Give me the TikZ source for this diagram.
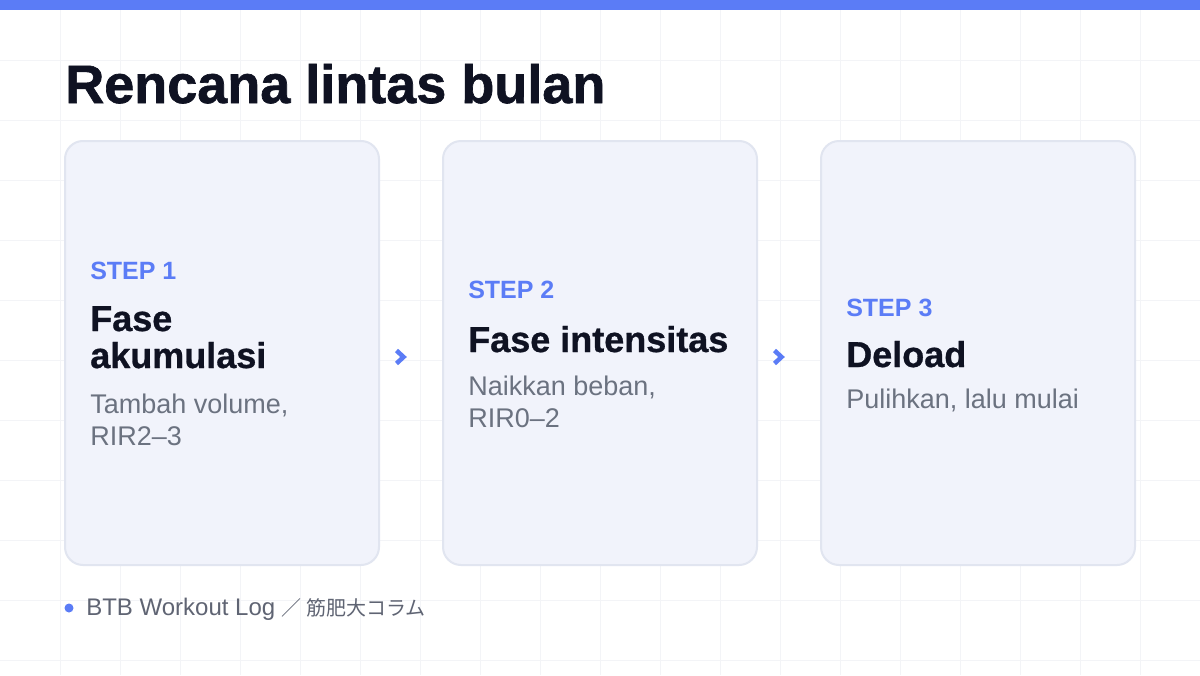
\documentclass[tikz,border=0pt]{standalone}
\usepackage{fontspec}
\setmainfont{Liberation Sans}
\newfontfamily\cjk{Noto Sans CJK JP}
\usetikzlibrary{calc}
\definecolor{accent}{HTML}{5B7CF6}
\definecolor{gridc}{HTML}{F3F4F7}
\definecolor{cardfill}{HTML}{F1F3FB}
\definecolor{cardline}{HTML}{E1E5F0}
\definecolor{ink}{HTML}{0F1222}
\definecolor{muted}{HTML}{6B7280}
\definecolor{footc}{HTML}{5F6473}
\begin{document}
\begin{tikzpicture}[x=0.75pt,y=-0.75pt,
  card/.style={draw=cardline,line width=1.5pt,fill=cardfill,rounded corners=13.5pt,
    minimum width=235.5pt,minimum height=318pt,inner sep=0pt},
  txt/.style={anchor=base west,inner sep=0pt},
  steplbl/.style={txt,text=accent,font=\fontsize{18.75pt}{22pt}\selectfont\bfseries},
  headlbl/.style={txt,text=ink,font=\fontsize{27pt}{30pt}\selectfont\bfseries\addfontfeature{FakeBold=0.8}},
  desclbl/.style={txt,text=muted,font=\fontsize{20.25pt}{24pt}\selectfont},
  chev/.style={draw=accent,line width=3.4pt,line cap=butt,line join=miter}
]
\useasboundingbox (0,0) rectangle (1200,675);
\fill[white] (0,0) rectangle (1200,675);
\foreach \i in {60,120,...,1140} \draw[gridc,line width=0.75pt] (\i,0) -- (\i,675);
\foreach \j in {60,120,...,660} \draw[gridc,line width=0.75pt] (0,\j) -- (1200,\j);
\fill[accent] (0,0) rectangle (1200,10);

\node[txt,text=ink,font=\fontsize{40.5pt}{44pt}\selectfont\bfseries\addfontfeature{FakeBold=1.2}] (title) at (65,103) {Rencana lintas bulan};

\node[card] (c1) at (222,353) {};
\node[card] (c2) at (600,353) {};
\node[card] (c3) at (978,353) {};

\node[steplbl] (s1) at (90,279) {STEP 1};
\node[headlbl] (h1a) at (90,331) {Fase};
\node[headlbl] (h1b) at (90,368) {akumulasi};
\node[desclbl] (d1a) at (90,413) {Tambah volume,};
\node[desclbl] (d1b) at (90,445) {RIR2–3};

\node[steplbl] (s2) at (468,298) {STEP 2};
\node[headlbl] (h2) at (468,352) {Fase intensitas};
\node[desclbl] (d2a) at (468,395) {Naikkan beban,};
\node[desclbl] (d2b) at (468,427) {RIR0–2};

\node[steplbl] (s3) at (846,316) {STEP 3};
\node[headlbl] (h3) at (846,367) {Deload};
\node[desclbl] (d3) at (846,408) {Pulihkan, lalu mulai};

\coordinate (a1) at ($(c1.east)!0.5!(c2.west)+(-10,4)$);
\coordinate (a2) at ($(c2.east)!0.5!(c3.west)+(-10,4)$);
\foreach \a in {a1,a2}{
  \draw[chev] ($(\a)+(-4.5,-6.5)$) -- ($(\a)+(2.5,0)$) -- ($(\a)+(-4.5,6.5)$);
}

\fill[accent] (69,608) circle[radius=4.5] coordinate (dot);
\node[txt,text=footc,font=\fontsize{18pt}{20pt}\selectfont] (foot) at (86,615) {BTB Workout Log {\fontsize{15pt}{18pt}\selectfont\cjk ／ 筋肥大コラム}};
\end{tikzpicture}
\end{document}
